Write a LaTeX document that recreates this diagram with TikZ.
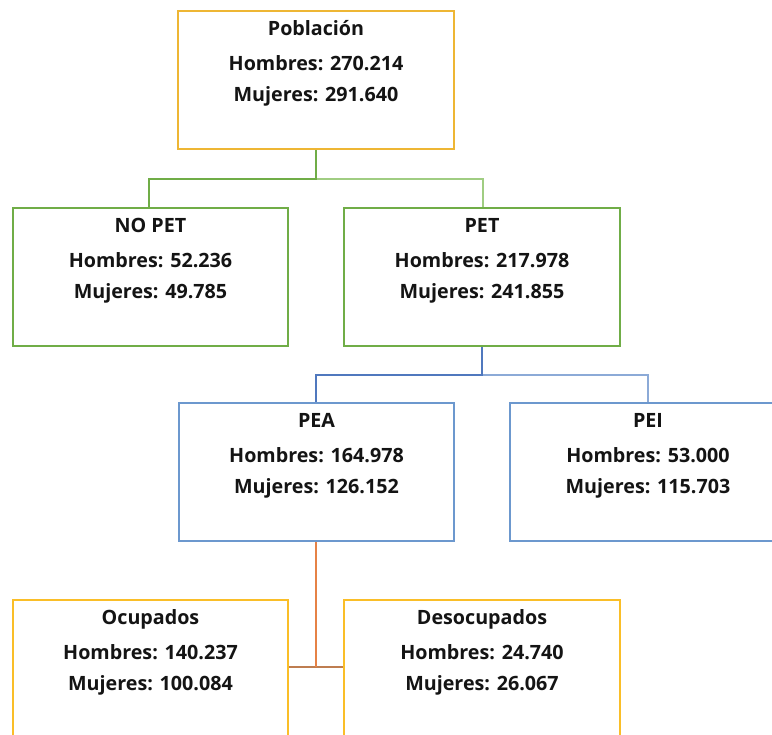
\documentclass[tikz,border=0pt]{standalone}
\usepackage{fontspec}
\setmainfont{Open Sans}
\definecolor{gold}{RGB}{238,182,52}
\definecolor{gold2}{RGB}{250,190,40}
\definecolor{grn}{RGB}{112,173,71}
\definecolor{grnl}{RGB}{160,205,130}
\definecolor{blu}{RGB}{108,152,206}
\definecolor{blud}{RGB}{80,120,190}
\definecolor{blul}{RGB}{140,170,215}
\definecolor{orn}{RGB}{230,130,70}
\definecolor{brn}{RGB}{190,125,80}
\tikzset{
  boxline/.style={draw=#1, line width=1.4pt, fill=white},
  txt/.style={anchor=base, inner sep=0pt, font=\fontsize{19.7}{22}\bfseries\selectfont, text=black!92},
  conn/.style={draw=#1, line width=2.2pt},
}
\newcommand{\mybox}[9]{%
  \draw[boxline=#2] (#3,#4) rectangle (#5,#6);
  \coordinate (#1nw) at (#3,#4);
  \coordinate (#1se) at (#5,#6);
  \node[txt] (#1t) at ({(#3+#5)/2},{#4+24.5}) {#7};
  \node[txt] (#1h) at ({(#3+#5)/2},{#4+59.5}) {Hombres: #8};
  \node[txt] (#1m) at ({(#3+#5)/2},{#4+90.5}) {Mujeres: #9};
}
\begin{document}
\begin{tikzpicture}[x=1pt,y=-1pt]
\useasboundingbox (0,0) rectangle (772,735);
\clip (0,0) rectangle (772,735);
\fill[white] (0,0) rectangle (772,735);
% connector coordinates
\coordinate (c1) at (316,149);
\coordinate (c1m) at (316,179);
\coordinate (c1l) at (149,179);
\coordinate (c1r) at (483,179);
\coordinate (c1ld) at (149,208);
\coordinate (c1rd) at (483,208);
\coordinate (c2) at (482,346);
\coordinate (c2m) at (482,375);
\coordinate (c2l) at (316,375);
\coordinate (c2r) at (648,375);
\coordinate (c2ld) at (316,403);
\coordinate (c2rd) at (648,403);
\coordinate (c3) at (316,541);
\coordinate (c3m) at (316,667);
\coordinate (c3l) at (288,667);
\coordinate (c3r) at (344,667);
% connectors
\draw[conn=grnl] (c1m) -- (c1r) -- (c1rd);
\draw[conn=grn] (c1) -- (c1m) -- (c1l) -- (c1ld);
\draw[conn=blul] (c2m) -- (c2r) -- (c2rd);
\draw[conn=blud] (c2) -- (c2m) -- (c2l) -- (c2ld);
\draw[conn=brn] (c3l) -- (c3r);
\draw[conn=orn] (c3) -- (c3m);
% boxes
\mybox{pob}{gold}{178}{11}{454}{149}{Población}{270.214}{291.640}
\mybox{nopet}{grn}{13}{208}{288}{346}{NO PET}{52.236}{49.785}
\mybox{pet}{grn}{344}{208}{620}{346}{PET}{217.978}{241.855}
\mybox{pea}{blu}{179}{403}{454}{541}{PEA}{164.978}{126.152}
\mybox{pei}{blu}{510}{403}{786}{541}{PEI}{53.000}{115.703}
\mybox{ocu}{gold2}{13}{600}{288}{760}{Ocupados}{140.237}{100.084}
\mybox{des}{gold2}{344}{600}{620}{760}{Desocupados}{24.740}{26.067}
\end{tikzpicture}
\end{document}
